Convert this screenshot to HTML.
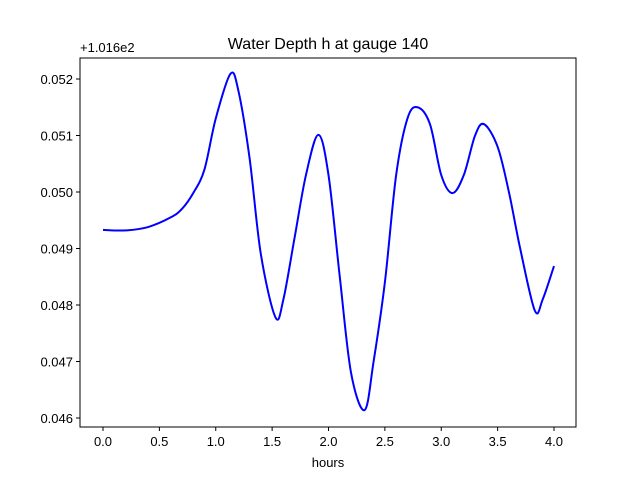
<!DOCTYPE html>
<html><head><meta charset="utf-8"><style>
body{margin:0;background:#fff;}
svg{display:block;font-family:"Liberation Sans","DejaVu Sans",sans-serif;}
</style></head><body>
<svg id="chart" width="640" height="480">
<rect x="0" y="0" width="640" height="480" fill="#fff"/>
<text x="328" y="49" font-size="16" text-anchor="middle">Water Depth h at gauge 140</text>
<text x="80" y="52" font-size="13">+1.016e2</text>
<g id="ticks"></g>
<path id="line" fill="none" stroke="#0000ff" stroke-width="2"/>
<rect x="80" y="58" width="496" height="369" fill="none" stroke="#000" stroke-width="1"/>
<text x="328" y="467" font-size="13" text-anchor="middle">hours</text>
</svg>
<script>
const hours=[0,0.2,0.4,0.6,0.7,0.8,0.9,1.0,1.13,1.2,1.3,1.4,1.53,1.6,1.7,1.8,1.91,2.0,2.1,2.2,2.32,2.4,2.5,2.6,2.7,2.79,2.9,3.0,3.1,3.2,3.3,3.38,3.5,3.6,3.7,3.83,3.9,4.0];
const depth=[0.04933,0.04932,0.04938,0.04955,0.0497,0.04998,0.0504,0.0513,0.05209,0.0518,0.0506,0.0489,0.04778,0.0481,0.0492,0.0503,0.05101,0.0503,0.0485,0.0468,0.04614,0.047,0.0484,0.0503,0.0513,0.0515,0.0512,0.0503,0.04998,0.0503,0.051,0.0512,0.0508,0.05,0.049,0.0479,0.0481,0.04869];
const xTicks=[0,0.5,1,1.5,2,2.5,3,3.5,4];
const xTickLabels=["0.0","0.5","1.0","1.5","2.0","2.5","3.0","3.5","4.0"];
const yTicks=[0.046,0.047,0.048,0.049,0.05,0.051,0.052];
const yTickLabels=["0.046","0.047","0.048","0.049","0.050","0.051","0.052"];
const sx=v=>103+v*112.75;
const sy=v=>79+(0.052-v)*56500;
const NS="http://www.w3.org/2000/svg";
const g=document.getElementById('ticks');
function mk(t,a){const e=document.createElementNS(NS,t);for(const k in a)e.setAttribute(k,a[k]);return e;}
xTicks.forEach((t,i)=>{
 const l=mk('line',{x1:sx(t),x2:sx(t),y1:427,y2:431,stroke:'#000'});
 
 
 g.appendChild(l);
 const tx=mk('text',{x:sx(t),y:446,'font-size':13,'text-anchor':'middle'});
 tx.textContent=xTickLabels[i];
 
 
 g.appendChild(tx);
});
yTicks.forEach((t,i)=>{
 const l=mk('line',{x1:76,x2:80,y1:sy(t),y2:sy(t),stroke:'#000'});
 
 
 g.appendChild(l);
 const tx=mk('text',{x:73,y:sy(t)+5,'font-size':13,'text-anchor':'end'});
 tx.textContent=yTickLabels[i];
 
 
 g.appendChild(tx);
});
const P=hours.map((h,i)=>[sx(h),sy(depth[i])]);
let d=`M${P[0][0]},${P[0][1]}`;
for(let i=0;i<P.length-1;i++){
 const p0=P[Math.max(0,i-1)],p1=P[i],p2=P[i+1],p3=P[Math.min(P.length-1,i+2)];
 const c1=[p1[0]+(p2[0]-p0[0])/6,p1[1]+(p2[1]-p0[1])/6];
 const c2=[p2[0]-(p3[0]-p1[0])/6,p2[1]-(p3[1]-p1[1])/6];
 d+=` C${c1[0]},${c1[1]} ${c2[0]},${c2[1]} ${p2[0]},${p2[1]}`;
}
document.getElementById('line').setAttribute('d',d);
</script>
</body></html>
